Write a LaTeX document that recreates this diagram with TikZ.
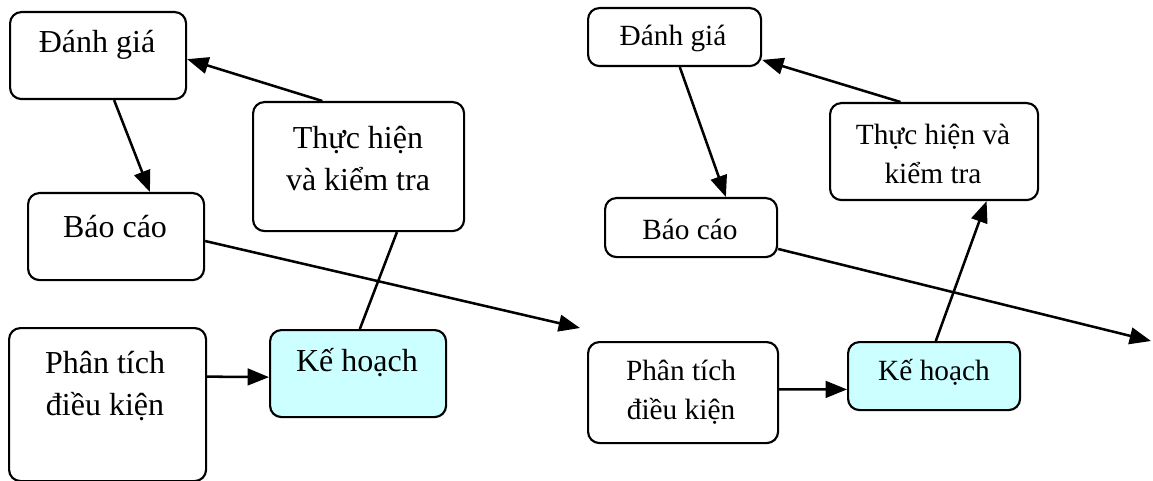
\documentclass[tikz,border=0pt]{standalone}
\usepackage{fontspec}
\setmainfont{Liberation Serif}
\usetikzlibrary{arrows.meta,calc}
\definecolor{plancyan}{HTML}{CCFFFF}
\tikzset{every picture/.style={line width=1.6pt}}
\tikzset{
	box/.style={draw, rounded corners=8.5pt, anchor=north west, inner sep=0pt},
	planbox/.style={box, fill=plancyan},
	arr/.style={line width=1.9pt, -{Triangle[length=16pt,width=12.5pt]}},
	bigtxt/.style={inner sep=0.75pt, align=center, font=\fontsize{24}{31.5}\selectfont},
	smalltxt/.style={inner sep=0.75pt, align=center, font=\fontsize{22}{29}\selectfont},
}

\begin{document}
\begin{tikzpicture}[x=0.75pt,y=0.75pt,yscale=-1,xscale=1]
	\useasboundingbox (0,0) rectangle (1153,481);
	
	%Left diagram: boxes
	\node [box, minimum width=132pt, minimum height=65.25pt] (dgA) at (9,11) {};
	\node [box, minimum width=158.25pt, minimum height=96.75pt] (thA) at (252,101) {};
	\node [box, minimum width=132pt, minimum height=65.25pt] (bcA) at (27,192) {};
	\node [box, minimum width=147.75pt, minimum height=114.75pt] (ptA) at (8,327) {};
	\node [planbox, minimum width=132pt, minimum height=65.25pt] (khA) at (269,329) {};
	\coordinate (endA) at (580,328);
	
	% Text Node
	\node [bigtxt] (dgAtxt) at (97,45) {Đánh giá};
	% Text Node
	\node [bigtxt] (thAtxt) at (358,159) {Thực hiện\\và kiểm tra};
	% Text Node
	\node [bigtxt] (bcAtxt) at (115,227) {Báo cáo};
	% Text Node
	\node [bigtxt] (ptAtxt) at (105,386) {Phân tích\\điều kiện};
	% Text Node
	\node [bigtxt] (khAtxt) at (357,363) {Kế hoạch};
	
	%Left diagram: connectors
	\draw [arr] ($(thA.north west)!0.33!(thA.north east)$) -- ($(dgA.north east)!0.54!(dgA.south east)$);
	\draw [arr] ($(dgA.south west)!0.59!(dgA.south east)$) -- ($(bcA.north west)!0.69!(bcA.north east)$);
	\draw [arr] ($(bcA.north east)!0.55!(bcA.south east)$) -- (endA);
	\draw [line width=1.9pt] ($(khA.north west)!0.51!(khA.north east)$) -- ($(thA.south west)!0.68!(thA.south east)$);
	\draw [arr] ($(ptA.north east)!0.32!(ptA.south east)$) -- ($(khA.north west)!0.54!(khA.south west)$);
	
	%Right diagram: boxes
	\node [box, minimum width=129.75pt, minimum height=43.5pt] (dgB) at (587,7) {};
	\node [box, minimum width=156pt, minimum height=72.75pt] (thB) at (829,102) {};
	\node [box, minimum width=129pt, minimum height=44.25pt] (bcB) at (604,197) {};
	\node [box, minimum width=142.5pt, minimum height=75.75pt] (ptB) at (587,341) {};
	\node [planbox, minimum width=129pt, minimum height=51pt] (khB) at (847,341) {};
	\coordinate (endB) at (1151,341);
	
	% Text Node
	\node [smalltxt] (dgBtxt) at (673,38) {Đánh giá};
	% Text Node
	\node [smalltxt] (thBtxt) at (933,154) {Thực hiện và\\kiểm tra};
	% Text Node
	\node [smalltxt] (bcBtxt) at (690,229) {Báo cáo};
	% Text Node
	\node [smalltxt] (ptBtxt) at (681,392) {Phân tích\\điều kiện};
	% Text Node
	\node [smalltxt] (khBtxt) at (934,372) {Kế hoạch};
	
	%Right diagram: connectors
	\draw [arr] ($(thB.north west)!0.34!(thB.north east)$) -- ($(dgB.north east)!0.88!(dgB.south east)$);
	\draw [arr] ($(dgB.south west)!0.53!(dgB.south east)$) -- ($(bcB.north west)!0.70!(bcB.north east)$);
	\draw [arr] ($(bcB.north east)!0.85!(bcB.south east)$) -- (endB);
	\draw [arr] ($(khB.north west)!0.51!(khB.north east)$) -- ($(thB.south west)!0.75!(thB.south east)$);
	\draw [arr] ($(ptB.north east)!0.47!(ptB.south east)$) -- ($(khB.north west)!0.69!(khB.south west)$);
	
\end{tikzpicture}
\end{document}
